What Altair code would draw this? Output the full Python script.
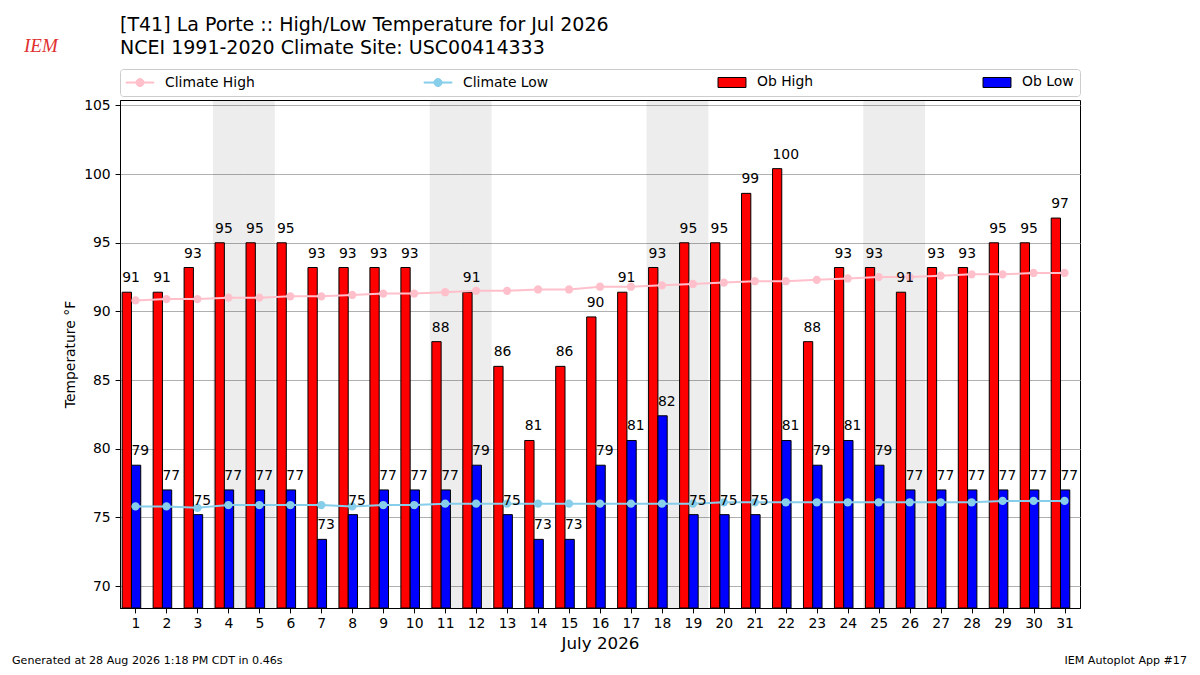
import altair as alt
import pandas as pd

# ---------------- data ----------------
days = list(range(1, 32))
ob_high = [91.4, 91.4, 93.2, 95.0, 95.0, 95.0, 93.2, 93.2, 93.2, 93.2, 87.8, 91.4, 86.0, 80.6, 86.0,
           89.6, 91.4, 93.2, 95.0, 95.0, 98.6, 100.4, 87.8, 93.2, 93.2, 91.4, 93.2, 93.2, 95.0, 95.0, 96.8]
ob_low = [78.8, 77.0, 75.2, 77.0, 77.0, 77.0, 73.4, 75.2, 77.0, 77.0, 77.0, 78.8, 75.2, 73.4, 73.4,
          78.8, 80.6, 82.4, 75.2, 75.2, 75.2, 80.6, 78.8, 80.6, 78.8, 77.0, 77.0, 77.0, 77.0, 77.0, 77.0]
climate_high = [90.8, 90.9, 90.9, 91.0, 91.0, 91.1, 91.1, 91.2, 91.3, 91.3, 91.4, 91.5, 91.5, 91.6, 91.6,
                91.8, 91.8, 91.9, 92.0, 92.1, 92.2, 92.2, 92.3, 92.4, 92.5, 92.5, 92.6, 92.7, 92.7, 92.8, 92.8]
climate_low = [75.8, 75.8, 75.7, 75.9, 75.9, 75.9, 75.9, 75.8, 75.9, 75.9, 76.0, 76.0, 76.0, 76.0, 76.0,
               76.0, 76.0, 76.0, 76.0, 76.1, 76.1, 76.1, 76.1, 76.1, 76.1, 76.1, 76.1, 76.1, 76.2, 76.2, 76.2]
weekend_days = [4, 5, 11, 12, 18, 19, 25, 26]
y_ticks = [70, 75, 80, 85, 90, 95, 100, 105]
series_names = ["Climate High", "Climate Low", "Ob High", "Ob Low"]
series_fill = ["#ffc0cb", "#87ceeb", "#ff0000", "#0000ff"]
series_stroke = ["#ffc0cb", "#87ceeb", "#000000", "#000000"]
title_lines = ["[T41] La Porte :: High/Low Temperature for Jul 2026",
               "NCEI 1991-2020 Climate Site: USC00414333"]
x_title = "July 2026"
y_title = "Temperature °F"
footer_left = "Generated at 28 Aug 2026 1:18 PM CDT in 0.46s"
footer_right = "IEM Autoplot App #17"
logo_text = "IEM"

FONT = "DejaVu Sans"

# legend symbols (custom paths): line with marker, and filled patch
line_path = "M-2.15,-0.08H2.15V0.08H-2.15Z M0.62,0A0.62,0.62 0 1,1 -0.62,0A0.62,0.62 0 1,1 0.62,0Z"
rect_path = "M-2.15,-0.77H2.15V0.77H-2.15Z"

x_scale = alt.Scale(domain=[0.5, 31.5], nice=False, zero=False)
y_scale = alt.Scale(domain=[68.4, 105.4], nice=False, zero=False)
fill_scale = alt.Scale(domain=series_names, range=series_fill)
stroke_scale = alt.Scale(domain=series_names, range=series_stroke)
shape_scale = alt.Scale(domain=series_names, range=[line_path, line_path, rect_path, rect_path])

x_axis = alt.Axis(values=days, format="d", title=x_title, grid=False, tickSize=4.9, tickColor="black",
                  domainColor="black", labelPadding=3.5, labelFontSize=13.9, titleFontSize=16.7,
                  titlePadding=5, labelOverlap=False, labelFlush=False, labelColor="black",
                  titleColor="black", titleFontWeight="normal")
y_axis = alt.Axis(values=y_ticks, title=y_title, grid=True, gridColor="#b0b0b0", gridWidth=1,
                  tickSize=4.9, tickColor="black", domainColor="black", labelPadding=4.9,
                  labelFontSize=13.9, titleFontSize=13.9, titlePadding=6, labelColor="black",
                  titleColor="black", titleFontWeight="normal", labelOverlap=False)

leg = alt.Legend(title=None, orient="none", legendX=0, legendY=-31, direction="horizontal", columns=4,
                 columnPadding=167, rowPadding=0, padding=6, gridAlign="each", symbolSize=169,
                 symbolOffset=7, labelOffset=18, symbolStrokeWidth=1, symbolOpacity=1,
                 labelFont=FONT, labelFontSize=13.9, labelColor="black", strokeColor="#cccccc",
                 fillColor="white", cornerRadius=3, labelLimit=300)

# ---------------- layers ----------------
bands = alt.Chart(pd.DataFrame({"day": weekend_days})).transform_calculate(
    b0="datum.day - 0.5", b1="datum.day + 0.5"
).mark_rect(color="#000000", opacity=0.07).encode(
    x=alt.X("b0:Q", scale=x_scale, axis=x_axis), x2="b1:Q"
)

clim = pd.DataFrame({"day": days, "Climate High": climate_high, "Climate Low": climate_low})
clim_long = alt.Chart(clim).transform_fold(["Climate High", "Climate Low"], as_=["series", "temp"])

# carries the combined legend (draws nothing itself)
legend_layer = clim_long.transform_filter("false").mark_point(filled=True, opacity=1).encode(
    x=alt.X("day:Q", scale=x_scale, axis=x_axis),
    y=alt.Y("temp:Q", scale=y_scale, axis=y_axis),
    fill=alt.Fill("series:N", scale=fill_scale, legend=leg),
    stroke=alt.Stroke("series:N", scale=stroke_scale, legend=leg),
    shape=alt.Shape("series:N", scale=shape_scale, legend=leg),
)

obs = pd.DataFrame({"day": days, "Ob High": ob_high, "Ob Low": ob_low})
obs_long = alt.Chart(obs).transform_fold(["Ob High", "Ob Low"], as_=["series", "temp"]).transform_calculate(
    b0="datum.day + (datum.series == 'Ob High' ? -0.43 : -0.13)"
).transform_calculate(b1="datum.b0 + 0.3")

bars = obs_long.mark_bar(stroke="black", strokeWidth=1, opacity=1).encode(
    x=alt.X("b0:Q", scale=x_scale, axis=x_axis), x2="b1:Q",
    y=alt.Y("temp:Q", scale=y_scale, axis=y_axis),
    y2=alt.value("height"),
    fill=alt.Fill("series:N", scale=fill_scale, legend=leg),
)

labels = obs_long.mark_text(align="left", baseline="alphabetic", dy=-10, fontSize=13.9, font=FONT,
                            color="black").encode(
    x=alt.X("b0:Q", scale=x_scale, axis=x_axis),
    y=alt.Y("temp:Q", scale=y_scale, axis=y_axis),
    text=alt.Text("temp:Q", format=".0f"),
)

clines = clim_long.mark_line(strokeWidth=2).encode(
    x=alt.X("day:Q", scale=x_scale, axis=x_axis),
    y=alt.Y("temp:Q", scale=y_scale, axis=y_axis),
    stroke=alt.Stroke("series:N", scale=stroke_scale, legend=leg),
)
cpoints = clim_long.mark_circle(size=68, opacity=1).encode(
    x=alt.X("day:Q", scale=x_scale, axis=x_axis),
    y=alt.Y("temp:Q", scale=y_scale, axis=y_axis),
    fill=alt.Fill("series:N", scale=fill_scale, legend=leg),
)

foot_l = alt.Chart(pd.DataFrame({"t": [footer_left]})).mark_text(
    align="left", baseline="alphabetic", fontSize=11.1, font=FONT, color="black"
).encode(text="t:N", x=alt.value(-108), y=alt.value(564))
foot_r = alt.Chart(pd.DataFrame({"t": [footer_right]})).mark_text(
    align="right", baseline="alphabetic", fontSize=11.1, font=FONT, color="black"
).encode(text="t:N", x=alt.value(1067), y=alt.value(564))
logo = alt.Chart(pd.DataFrame({"t": [logo_text]})).mark_text(
    align="left", baseline="alphabetic", fontSize=19, font="Liberation Serif", fontStyle="italic",
    color="#e03030"
).encode(text="t:N", x=alt.value(-96), y=alt.value(-48))

chart = alt.layer(
    bands, legend_layer, bars, clines, cpoints, labels, foot_l, foot_r, logo
).properties(
    width=960, height=508,
    autosize=alt.AutoSizeParams(type="none"),
    padding={"left": 112, "top": 92, "right": 112, "bottom": 59},
    title=alt.Title(text=title_lines, anchor="start", frame="group", font=FONT, fontSize=19,
                    fontWeight="normal", color="black", lineHeight=23, offset=-21),
).configure(font=FONT).configure_view(stroke="black", strokeWidth=1)

chart.save("out.html", embed_options={"renderer": "svg", "actions": False})
